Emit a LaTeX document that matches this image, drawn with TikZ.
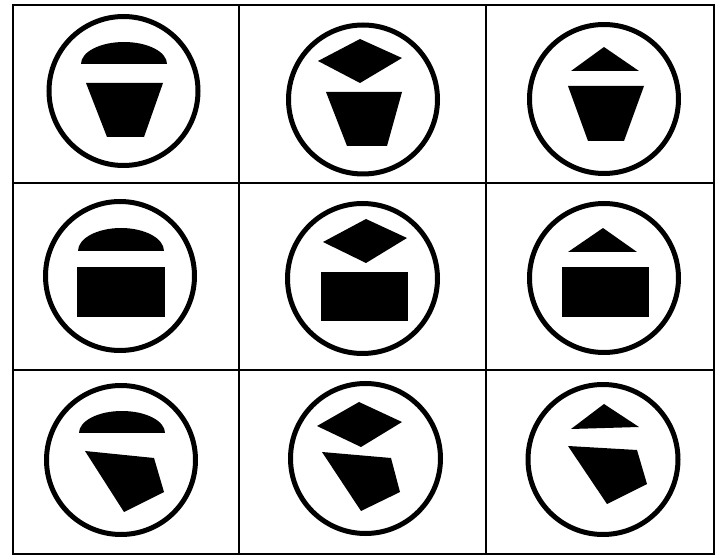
\documentclass[tikz,border=0pt]{standalone}
\begin{document}
\begin{tikzpicture}[x=1pt,y=-1pt,
  gridline/.style={draw=black,line width=1.8pt},
  ring/.style={draw=black,line width=5pt},
  blob/.style={fill=black}]
\useasboundingbox[fill=white] (0,0) rectangle (716,556);
% grid
\draw[gridline] (13,5) rectangle (714,554);
\draw[gridline] (239,5) -- (239,554);
\draw[gridline] (486,5) -- (486,554);
\draw[gridline] (13,183) -- (714,183);
\draw[gridline] (13,370) -- (714,370);
% row 1
\draw[ring] (123.5,91) circle[radius=74.5];
\fill[blob] (81,64) arc[start angle=180,end angle=360,x radius=43,y radius=22] -- cycle;
\fill[blob] (86,83) -- (163,83) -- (144,137) -- (107,137) -- cycle;

\draw[ring] (363,99.5) circle[radius=74.5];
\fill[blob] (318,61) -- (360,39) -- (402,58) -- (360,83) -- cycle;
\fill[blob] (326,92) -- (402,92) -- (387,146) -- (347,146) -- cycle;

\draw[ring] (604,99) circle[radius=74.5];
\fill[blob] (604,47) -- (639,71) -- (571,71) -- cycle;
\fill[blob] (568,86) -- (644,86) -- (624,141) -- (588,141) -- cycle;
% row 2
\draw[ring] (120,276) circle[radius=74.5];
\fill[blob] (78,251) arc[start angle=180,end angle=360,x radius=43,y radius=23] -- cycle;
\fill[blob] (77,267) rectangle (165,317);

\draw[ring] (362.5,278.5) circle[radius=75];
\fill[blob] (323,242) -- (366,219) -- (407,238) -- (366,263) -- cycle;
\fill[blob] (321,272) rectangle (408,321);

\draw[ring] (604,278) circle[radius=74.5];
\fill[blob] (603,228) -- (637,252) -- (568,252) -- cycle;
\fill[blob] (562,267) rectangle (649,317);
% row 3
\draw[ring] (121,460) circle[radius=74.5];
\fill[blob] (79,433) arc[start angle=180,end angle=360,x radius=43,y radius=22] -- cycle;
\fill[blob] (85,451) -- (154,458) -- (164,492) -- (124,512) -- cycle;

\draw[ring] (365.5,458.5) circle[radius=75];
\fill[blob] (317,426) -- (359,402) -- (402,422) -- (361,447) -- cycle;
\fill[blob] (322,452) -- (391,458) -- (400,492) -- (361,511) -- cycle;

\draw[ring] (603,459.5) circle[radius=75];
\fill[blob] (604,404) -- (639,427) -- (571,429) -- cycle;
\fill[blob] (568,446) -- (637,450) -- (647,484) -- (607,504) -- cycle;
\end{tikzpicture}
\end{document}
